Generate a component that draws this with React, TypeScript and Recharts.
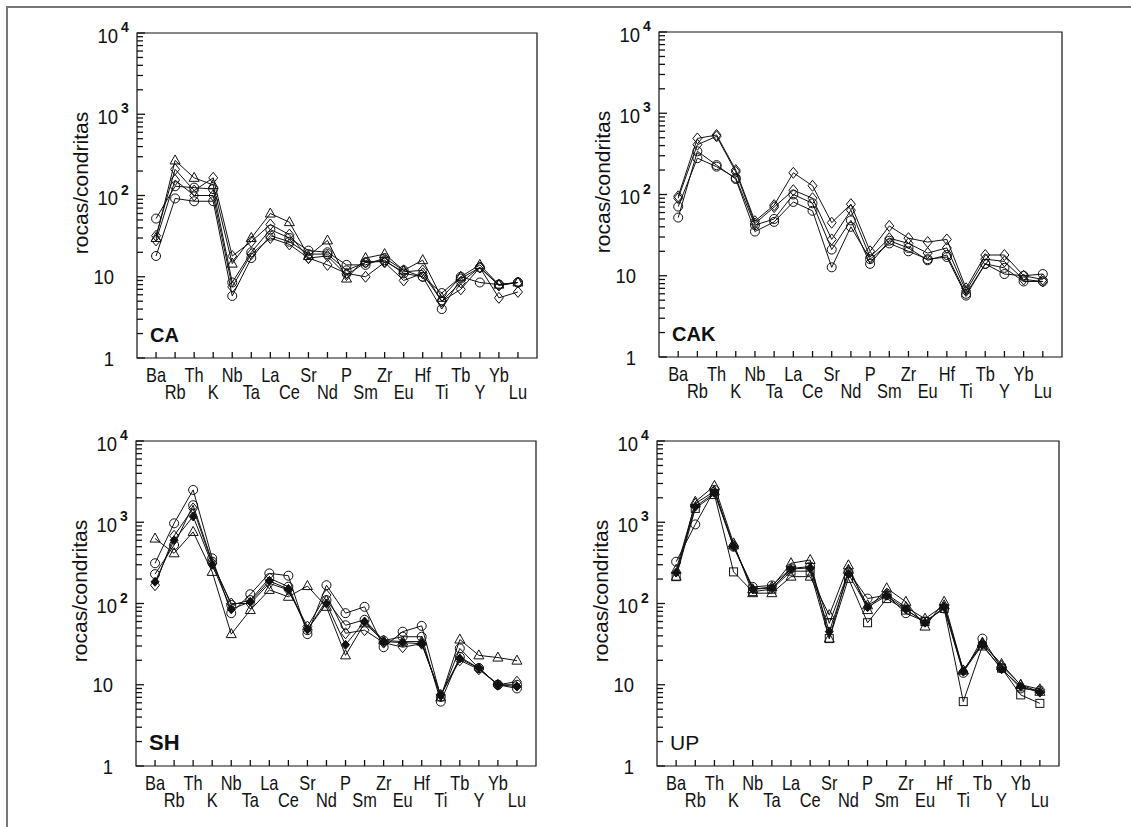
import React from "react";
import { LineChart, Line, XAxis, YAxis, ReferenceArea } from "recharts";

// elementos del diagrama multielemento
const ELEMENTS = ["Ba", "Rb", "Th", "K", "Nb", "Ta", "La", "Ce", "Sr", "Nd", "P", "Sm", "Zr", "Eu", "Hf", "Ti", "Tb", "Y", "Yb", "Lu"];
const Y_MAJOR = [1, 10, 100, 1000, 10000];

// CA
const caTriangle = [30, 270, 165, 135, 14.5, 30, 60, 47, 18, 28, 9.5, 17, 19, 12, 16, 5.5, 10, 14, 8, 8.5];
const caDiamond = [32, 210, 115, 165, 18, 27, 44, 33, 17, 14, 11, 10, 15, 9, 11, 5, 7, 13, 5.5, 6.5];
const caCircleA = [52, 130, 125, 120, 8.5, 20, 38, 30, 21, 20, 14, 14, 17, 12, 10, 6.3, 10, 8.5, 8, 8.5];
const caCircleB = [18, 92, 85, 85, 5.8, 17, 32, 27, 19, 19, 12, 15, 16, 11, 10, 4.0, 9.5, 13, 8, 8.5];
const caDiamondB = [28, 155, 100, 100, 7.5, 19, 30, 25, 17, 18, 10.5, 15, 15.5, 11.5, 12, 5, 8.5, 13, 7.8, 8.5];

// CAK
const cakDiamondA = [95, 490, 540, 200, 47, 74, 185, 128, 45, 76, 20, 41, 29, 26, 28, 7, 18, 18, 10, 9];
const cakDiamondB = [90, 410, 520, 190, 44, 70, 113, 90, 28, 64, 17, 29, 25, 19, 22, 6.5, 16, 15, 9, 8.5];
const cakCircleA = [52, 340, 230, 155, 35, 46, 81, 63, 12.7, 40, 16, 25, 20, 16, 17, 5.7, 14, 10.5, 10, 10.5];
const cakCircleB = [71, 280, 220, 160, 42, 50, 100, 78, 21, 48, 14, 27, 22, 15.5, 18, 6, 14, 12.5, 8.5, 8.5];

// SH
const shTriangle = [630, 415, 760, 245, 42, 83, 147, 121, 164, 91, 23, 57, 35, 34, 34, 7, 36, 23, 21.6, 19.8];
const shCircleA = [313, 970, 2500, 360, 76, 130, 235, 220, 42, 168, 76, 91, 29, 45, 53, 7.1, 28, 16, 10, 9];
const shCircleB = [230, 525, 1620, 327, 96, 110, 205, 161, 47, 110, 54, 63, 35, 39, 39, 6.2, 22, 16, 10, 10];
const shDiamond = [168, 680, 1480, 313, 100, 100, 177, 147, 52, 127, 43, 47, 33, 29, 32, 7.5, 20, 15.5, 10, 10.9];
const shFilled = [185, 600, 1180, 300, 85, 105, 190, 150, 48, 100, 31, 60, 34, 33, 32, 7.5, 21, 16, 10, 9.5];

// UP
const upTriangleA = [214, 1790, 2800, 550, 134, 134, 214, 214, 72, 295, 83, 154, 105, 52, 105, 15, 32, 18, 9.9, 8.2];
const upCircle = [327, 940, 2500, 500, 160, 167, 270, 285, 57, 245, 115, 127, 76, 60, 87, 14, 37, 16, 9, 8.5];
const upSquare = [214, 1480, 2200, 245, 140, 150, 250, 250, 37, 204, 58, 115, 83, 60, 87, 6.2, 30, 16, 7.5, 5.9];
const upTriangleB = [260, 1700, 2400, 520, 150, 160, 313, 343, 37, 260, 95, 130, 90, 65, 95, 15, 33, 17, 10, 8.8];
const upFilled = [240, 1550, 2300, 500, 150, 155, 265, 275, 45, 230, 90, 125, 85, 58, 90, 14.5, 31, 15.5, 9.5, 8];

const INK = "#111";
const FONT = "'Liberation Sans', Arial, sans-serif";

type Shape = "circle" | "triangle" | "diamond" | "square" | "filled";

const Marker = ({ cx, cy, shape }: { cx: number; cy: number; shape: Shape }) => {
  if (cx == null || cy == null) return null;
  if (shape === "circle") return <circle cx={cx} cy={cy} r={4.5} fill="none" stroke={INK} strokeWidth={1} />;
  if (shape === "triangle")
    return <polygon points={`${cx},${cy - 5.5} ${cx + 5},${cy + 3.5} ${cx - 5},${cy + 3.5}`} fill="none" stroke={INK} strokeWidth={1} />;
  if (shape === "diamond")
    return <polygon points={`${cx},${cy - 5.5} ${cx + 4.5},${cy} ${cx},${cy + 5.5} ${cx - 4.5},${cy}`} fill="none" stroke={INK} strokeWidth={1} />;
  if (shape === "square") return <rect x={cx - 4} y={cy - 4} width={8} height={8} fill="none" stroke={INK} strokeWidth={1} />;
  return <polygon points={`${cx},${cy - 4.5} ${cx + 4},${cy} ${cx},${cy + 4.5} ${cx - 4},${cy}`} fill={INK} stroke={INK} strokeWidth={1} />;
};

interface SeriesDef {
  values: number[];
  shape: Shape;
}

interface PanelProps {
  name: string;
  boxLeft: number;
  boxTop: number;
  boxWidth: number;
  series: SeriesDef[];
  nameSize?: number;
  nameWeight?: number;
}

const PLOT_H = 325;
const PAD_L = 100;
const PAD_T = 25;

const Panel: React.FC<PanelProps> = ({ name, boxLeft, boxTop, boxWidth, series, nameSize = 20, nameWeight = 700 }) => {
  const chartW = boxWidth + PAD_L + 25;
  const chartH = PLOT_H + PAD_T + 60;
  const plotBottom = PAD_T + PLOT_H;

  const data = ELEMENTS.map((el, i) => {
    const row: Record<string, number | string> = { i, el };
    series.forEach((s, k) => {
      row["s" + k] = s.values[i];
    });
    return row;
  });

  const yTicks: number[] = [];
  for (let d = 1; d < 10000; d *= 10) {
    for (let m = 1; m < 10; m++) yTicks.push(d * m);
  }
  yTicks.push(10000);

  const renderYTick = (props: any) => {
    const { y, payload } = props;
    const v = payload.value;
    const major = Y_MAJOR.includes(v);
    const len = major ? 8 : 6;
    let label: React.ReactNode = null;
    if (v === 1 || v === 10) {
      label = (
        <text x={PAD_L - 23} y={y} dy="0.36em" textAnchor="end" fontSize={21} fontFamily={FONT} fill={INK}
          transform={`translate(${PAD_L - 23},0) scale(0.88,1) translate(${-(PAD_L - 23)},0)`}>
          {v}
        </text>
      );
    } else if (major) {
      const exp = Math.round(Math.log10(v));
      label = (
        <g>
          <text x={PAD_L - 19} y={y + 2} dy="0.36em" textAnchor="end" fontSize={21} fontFamily={FONT} fill={INK}
            transform={`translate(${PAD_L - 19},0) scale(0.88,1) translate(${-(PAD_L - 19)},0)`}>
            10
          </text>
          <text x={PAD_L - 16} y={y - 1} textAnchor="start" fontSize={14} fontWeight={700} fontFamily={FONT} fill={INK}>
            {exp}
          </text>
        </g>
      );
    }
    return (
      <g>
        <line x1={PAD_L} x2={PAD_L + len} y1={y} y2={y} stroke={INK} strokeWidth={1.3} />
        {label}
      </g>
    );
  };

  const renderXTick = (props: any) => {
    const { x, payload } = props;
    const idx = payload.value as number;
    const upper = idx % 2 === 0;
    const ty = plotBottom + (upper ? 24 : 41);
    return (
      <g>
        <line x1={x} x2={x} y1={plotBottom} y2={plotBottom - 6} stroke={INK} strokeWidth={1.3} />
        <text transform={`translate(${x},${ty}) scale(0.82,1)`} textAnchor="middle" fontSize={20} fontFamily={FONT} fill={INK}>
          {ELEMENTS[idx]}
        </text>
      </g>
    );
  };

  return (
    <div style={{ position: "absolute", left: boxLeft - PAD_L, top: boxTop - PAD_T, width: chartW, height: chartH }}>
      <LineChart width={chartW} height={chartH} data={data} margin={{ top: PAD_T, right: 25, bottom: 15, left: 40 }}>
        <XAxis
          dataKey="i"
          type="number"
          domain={[-1, 20]}
          ticks={ELEMENTS.map((_, i) => i)}
          interval={0}
          axisLine={false}
          tickLine={false}
          height={45}
          tick={renderXTick}
        />
        <YAxis
          type="number"
          scale="log"
          domain={[1, 10000]}
          allowDataOverflow
          ticks={yTicks}
          interval={0}
          axisLine={false}
          tickLine={false}
          width={60}
          tick={renderYTick}
        />
        <ReferenceArea x1={-1} x2={20} y1={1} y2={10000} fill="none" stroke={INK} strokeWidth={1.2} />
        {series.map((s, k) => (
          <Line
            key={k}
            dataKey={"s" + k}
            type="linear"
            stroke={INK}
            strokeWidth={1}
            isAnimationActive={false}
            activeDot={false}
            dot={(p: any) => <Marker key={`${k}-${p.index}`} cx={p.cx} cy={p.cy} shape={s.shape} />}
          />
        ))}
      </LineChart>
      <svg width={chartW} height={chartH} style={{ position: "absolute", left: 0, top: 0, pointerEvents: "none" }}>
        <text transform={`translate(${PAD_L - 49},${PAD_T + 150}) rotate(-90)`} textAnchor="middle" fontSize={21} fontFamily={FONT} fill={INK}>
          rocas/condritas
        </text>
        <text x={PAD_L + 13} y={plotBottom - 16} fontSize={nameSize} fontWeight={nameWeight} fontFamily={FONT} fill={INK}>
          {name}
        </text>
      </svg>
    </div>
  );
};

export default function App() {
  return (
    <div style={{ position: "absolute", left: 0, top: 0, width: 1131, height: 827, background: "#fff", overflow: "hidden" }}>
      <div style={{ position: "absolute", left: 6, top: 6, width: 1140, height: 840, borderTop: "2px solid #777", borderLeft: "2px solid #777" }} />
      <Panel
        name="CA"
        boxLeft={137}
        boxTop={33}
        boxWidth={400}
        series={[
          { values: caTriangle, shape: "triangle" },
          { values: caDiamond, shape: "diamond" },
          { values: caCircleA, shape: "circle" },
          { values: caCircleB, shape: "circle" },
          { values: caDiamondB, shape: "diamond" },
        ]}
      />
      <Panel
        name="CAK"
        boxLeft={659}
        boxTop={32}
        boxWidth={403}
        series={[
          { values: cakDiamondA, shape: "diamond" },
          { values: cakDiamondB, shape: "diamond" },
          { values: cakCircleA, shape: "circle" },
          { values: cakCircleB, shape: "circle" },
        ]}
      />
      <Panel
        name="SH"
        boxLeft={136}
        boxTop={441}
        boxWidth={400}
        nameSize={22}
        series={[
          { values: shTriangle, shape: "triangle" },
          { values: shCircleA, shape: "circle" },
          { values: shCircleB, shape: "circle" },
          { values: shDiamond, shape: "diamond" },
          { values: shFilled, shape: "filled" },
        ]}
      />
      <Panel
        name="UP"
        boxLeft={657}
        boxTop={441}
        boxWidth={402}
        nameSize={21}
        nameWeight={500}
        series={[
          { values: upTriangleA, shape: "triangle" },
          { values: upCircle, shape: "circle" },
          { values: upSquare, shape: "square" },
          { values: upTriangleB, shape: "triangle" },
          { values: upFilled, shape: "filled" },
        ]}
      />
    </div>
  );
}
